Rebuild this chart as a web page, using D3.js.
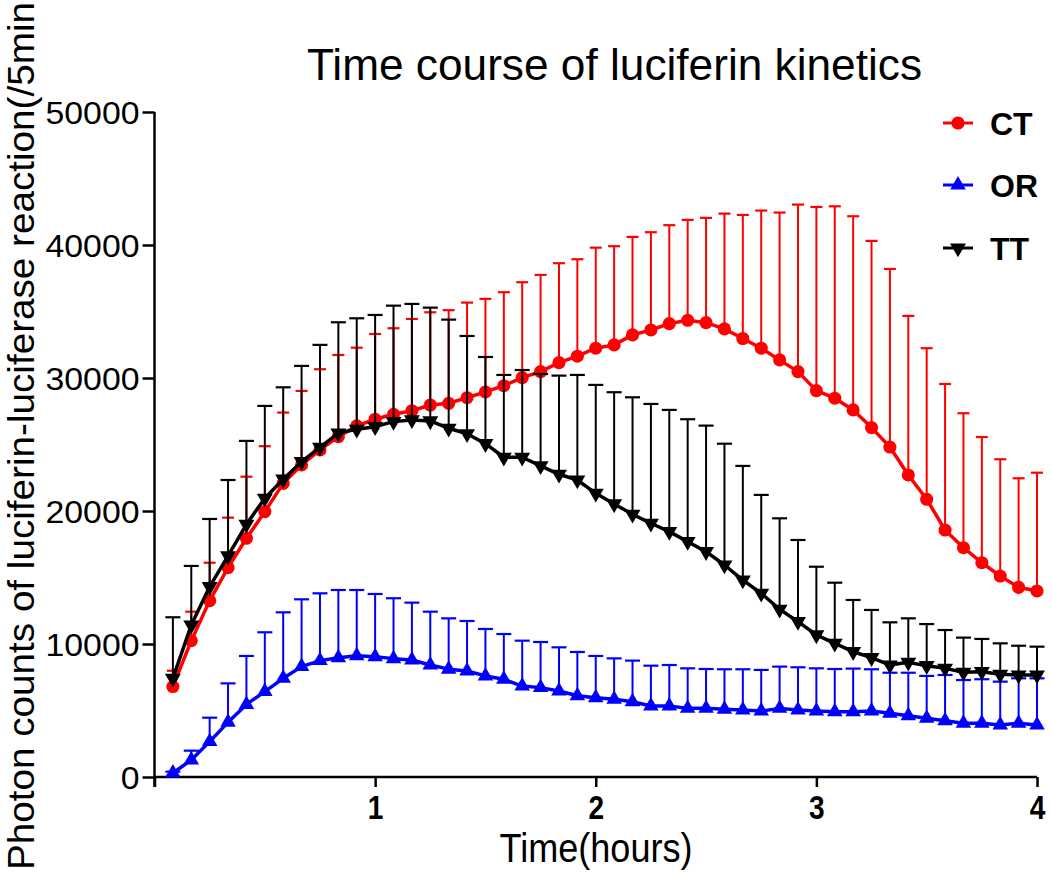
<!DOCTYPE html>
<html>
<head>
<meta charset="utf-8">
<script src="https://cdn.jsdelivr.net/npm/d3@7"></script>
<style>
  html, body { margin: 0; padding: 0; background: #fff; }
  svg { display: block; }
  text { font-family: "Liberation Sans", Arial, sans-serif; }
</style>
</head>
<body>
<svg id="chart" width="1052" height="881"></svg>
<script>
// ---- data (time in hours: every 5 min, 48 points) ----
const timeSteps = d3.range(1, 49);               // step index, 5-minute intervals
const timeHours = timeSteps.map(i => i * 5 / 60);

const ctMean = [6800,10250,13260,15740,17950,19950,22080,23460,24590,25590,26400,26900,27270,27540,27970,28100,28520,28950,29420,30030,30480,31160,31640,32240,32490,33240,33610,34090,34340,34160,33690,32970,32240,31360,30480,29050,28480,27600,26270,24810,22710,20880,18570,17240,16110,15110,14260,13990];
const ctSD   = [1190,2180,2850,3760,4630,4920,5320,5570,6070,6140,5880,6410,6470,6900,6970,7000,7150,7000,7030,7170,7270,7470,7290,7560,7420,7370,7350,7400,7550,7880,8670,9290,10350,11080,12560,13810,14430,14560,14040,13390,11960,11360,10980,10110,9450,8780,8200,8890];

const orMean = [300,1280,2660,4110,5460,6420,7420,8300,8750,8970,9120,9050,8900,8800,8420,8110,7970,7600,7350,6840,6720,6470,6110,5960,5840,5660,5340,5340,5160,5160,5090,5040,4960,5160,5040,4960,4910,4910,4960,4790,4610,4410,4230,4040,4040,3910,4040,3910];
const orSD   = [100,700,1800,2930,3640,4460,4960,5060,5060,5090,4940,4710,4540,4310,4010,3820,3760,3530,3400,3410,3430,3280,3290,3140,3080,3090,3030,3080,3010,2960,3010,3060,3090,3140,3210,3210,3210,3240,3140,3050,3230,3190,3440,3250,3310,3260,3380,3510];

const ttMean = [7420,11430,14310,16620,19000,20960,22390,23710,24790,25860,26140,26340,26720,26850,26770,26220,25810,25060,24040,24040,23390,22760,22330,21330,20530,19750,19080,18450,17700,16940,15940,14810,13810,12610,11680,10680,10050,9420,8970,8420,8620,8370,8170,7870,7920,7720,7670,7670];
const ttSD   = [4590,4440,5090,5710,6270,6940,6910,7200,7700,8330,8350,8400,8720,8720,8520,8170,7350,6520,6190,6560,6910,7420,7900,8150,8400,8800,8970,9150,9200,9480,9120,8580,7400,6840,6140,5130,4560,3890,3590,3210,3310,3130,2880,2610,2460,2330,2200,2130];

const seriesNames = ["CT", "OR", "TT"];
const yTicks = [0, 10000, 20000, 30000, 40000, 50000];
const xTicks = [0, 1, 2, 3, 4];
const xTickLabels = ["", "1", "2", "3", "4"];

const titleText = "Time course of luciferin kinetics";
const xLabelText = "Time(hours)";
const yLabelText = "Photon counts of luciferin-luciferase reaction(/5min";

// ---- styles ----
const styles = {
  CT: { color: "#ff0000", symbol: d3.symbolCircle, size: 135, rotate: 0, cap: 12 },
  OR: { color: "#0000ff", symbol: d3.symbolTriangle, size: 105, rotate: 0, cap: 15 },
  TT: { color: "#000000", symbol: d3.symbolTriangle, size: 110, rotate: 180, cap: 15 }
};

const series = [
  { name: "CT", mean: ctMean, sd: ctSD },
  { name: "OR", mean: orMean, sd: orSD },
  { name: "TT", mean: ttMean, sd: ttSD }
];

const svg = d3.select("#chart");

const x = d3.scaleLinear().domain([0, 4]).range([154.5, 1037]);
const y = d3.scaleLinear().domain([0, 50000]).range([777, 112]);

// ---- axes ----
const yAxis = svg.append("g")
  .attr("transform", `translate(${x(0)},0)`)
  .call(d3.axisLeft(y).tickValues(yTicks).tickSize(12).tickPadding(3).tickFormat(d3.format("d")));
yAxis.select(".domain").attr("stroke", "#000").attr("stroke-width", 2.5).attr("d", `M0,${y(50000)}V${y(0) + 10}`);
yAxis.selectAll(".tick line").attr("stroke", "#000").attr("stroke-width", 2.5);
yAxis.selectAll(".tick text")
  .attr("font-size", 32).attr("fill", "#000")
  .attr("font-family", "'Liberation Sans', Arial, sans-serif")
  .attr("dy", "0.36em")
  .each(function(d) {
    d3.select(this).attr("textLength", String(d).length * 18.8).attr("lengthAdjust", "spacingAndGlyphs");
  });

const xAxis = svg.append("g")
  .attr("transform", `translate(0,${y(0)})`)
  .call(d3.axisBottom(x).tickValues(xTicks).tickSize(10).tickPadding(8).tickFormat((d, i) => xTickLabels[i]));
xAxis.select(".domain").attr("stroke", "#000").attr("stroke-width", 2.5).attr("d", `M${x(0)},0H${x(4)}`);
xAxis.selectAll(".tick line").attr("stroke", "#000").attr("stroke-width", 2.5);
xAxis.selectAll(".tick text")
  .attr("font-size", 33).attr("font-weight", "bold").attr("fill", "#000")
  .attr("font-family", "'Liberation Sans', Arial, sans-serif")
  .attr("y", 0).attr("dy", 0)
  .attr("transform", "translate(0,42) scale(0.85,1)");

// ---- titles ----
svg.append("text")
  .attr("x", 614.5).attr("y", 80)
  .attr("text-anchor", "middle")
  .attr("font-size", 44)
  .attr("textLength", 615).attr("lengthAdjust", "spacingAndGlyphs")
  .text(titleText);

svg.append("text")
  .attr("x", 596).attr("y", 862)
  .attr("text-anchor", "middle")
  .attr("font-size", 40)
  .attr("textLength", 193).attr("lengthAdjust", "spacingAndGlyphs")
  .text(xLabelText);

svg.append("text")
  .attr("transform", "translate(34,870) rotate(-90)")
  .attr("text-anchor", "start")
  .attr("font-size", 37)
  .attr("textLength", 868).attr("lengthAdjust", "spacingAndGlyphs")
  .text(yLabelText);

// ---- series ----
const line = d3.line().x((d, i) => x(timeHours[i])).y(d => y(d));

series.forEach(s => {
  const st = styles[s.name];
  const g = svg.append("g").attr("class", "series-" + s.name);
  // error bars (upper only)
  const eb = g.append("g");
  s.mean.forEach((m, i) => {
    const cx = x(timeHours[i]);
    const top = y(m + s.sd[i]);
    eb.append("line").attr("x1", cx).attr("x2", cx).attr("y1", y(m)).attr("y2", top)
      .attr("stroke", st.color).attr("stroke-width", 2);
    eb.append("line").attr("x1", cx - st.cap / 2).attr("x2", cx + st.cap / 2).attr("y1", top).attr("y2", top)
      .attr("stroke", st.color).attr("stroke-width", 2.2);
  });
  // line
  g.append("path").datum(s.mean).attr("d", line)
    .attr("fill", "none").attr("stroke", st.color).attr("stroke-width", 3.5).attr("stroke-linejoin", "round");
  // markers
  g.selectAll("path.mk").data(s.mean).enter().append("path").attr("class", "mk")
    .attr("d", d3.symbol().type(st.symbol).size(st.size))
    .attr("transform", (d, i) => `translate(${x(timeHours[i])},${y(d)}) rotate(${st.rotate})`)
    .attr("fill", st.color);
});

// ---- legend ----
const legendY = [123, 185, 248];
seriesNames.forEach((name, k) => {
  const st = styles[name];
  const lg = svg.append("g").attr("transform", `translate(943,${legendY[k]})`);
  lg.append("line").attr("x1", 0).attr("x2", 30).attr("y1", 0).attr("y2", 0)
    .attr("stroke", st.color).attr("stroke-width", 3);
  lg.append("path").attr("d", d3.symbol().type(st.symbol).size(st.size))
    .attr("transform", `translate(15,0) rotate(${st.rotate})`).attr("fill", st.color);
  lg.append("text").attr("x", 47).attr("y", 12)
    .attr("font-size", 32).attr("font-weight", "bold").attr("fill", "#000")
    .text(name);
});
</script>
</body>
</html>
